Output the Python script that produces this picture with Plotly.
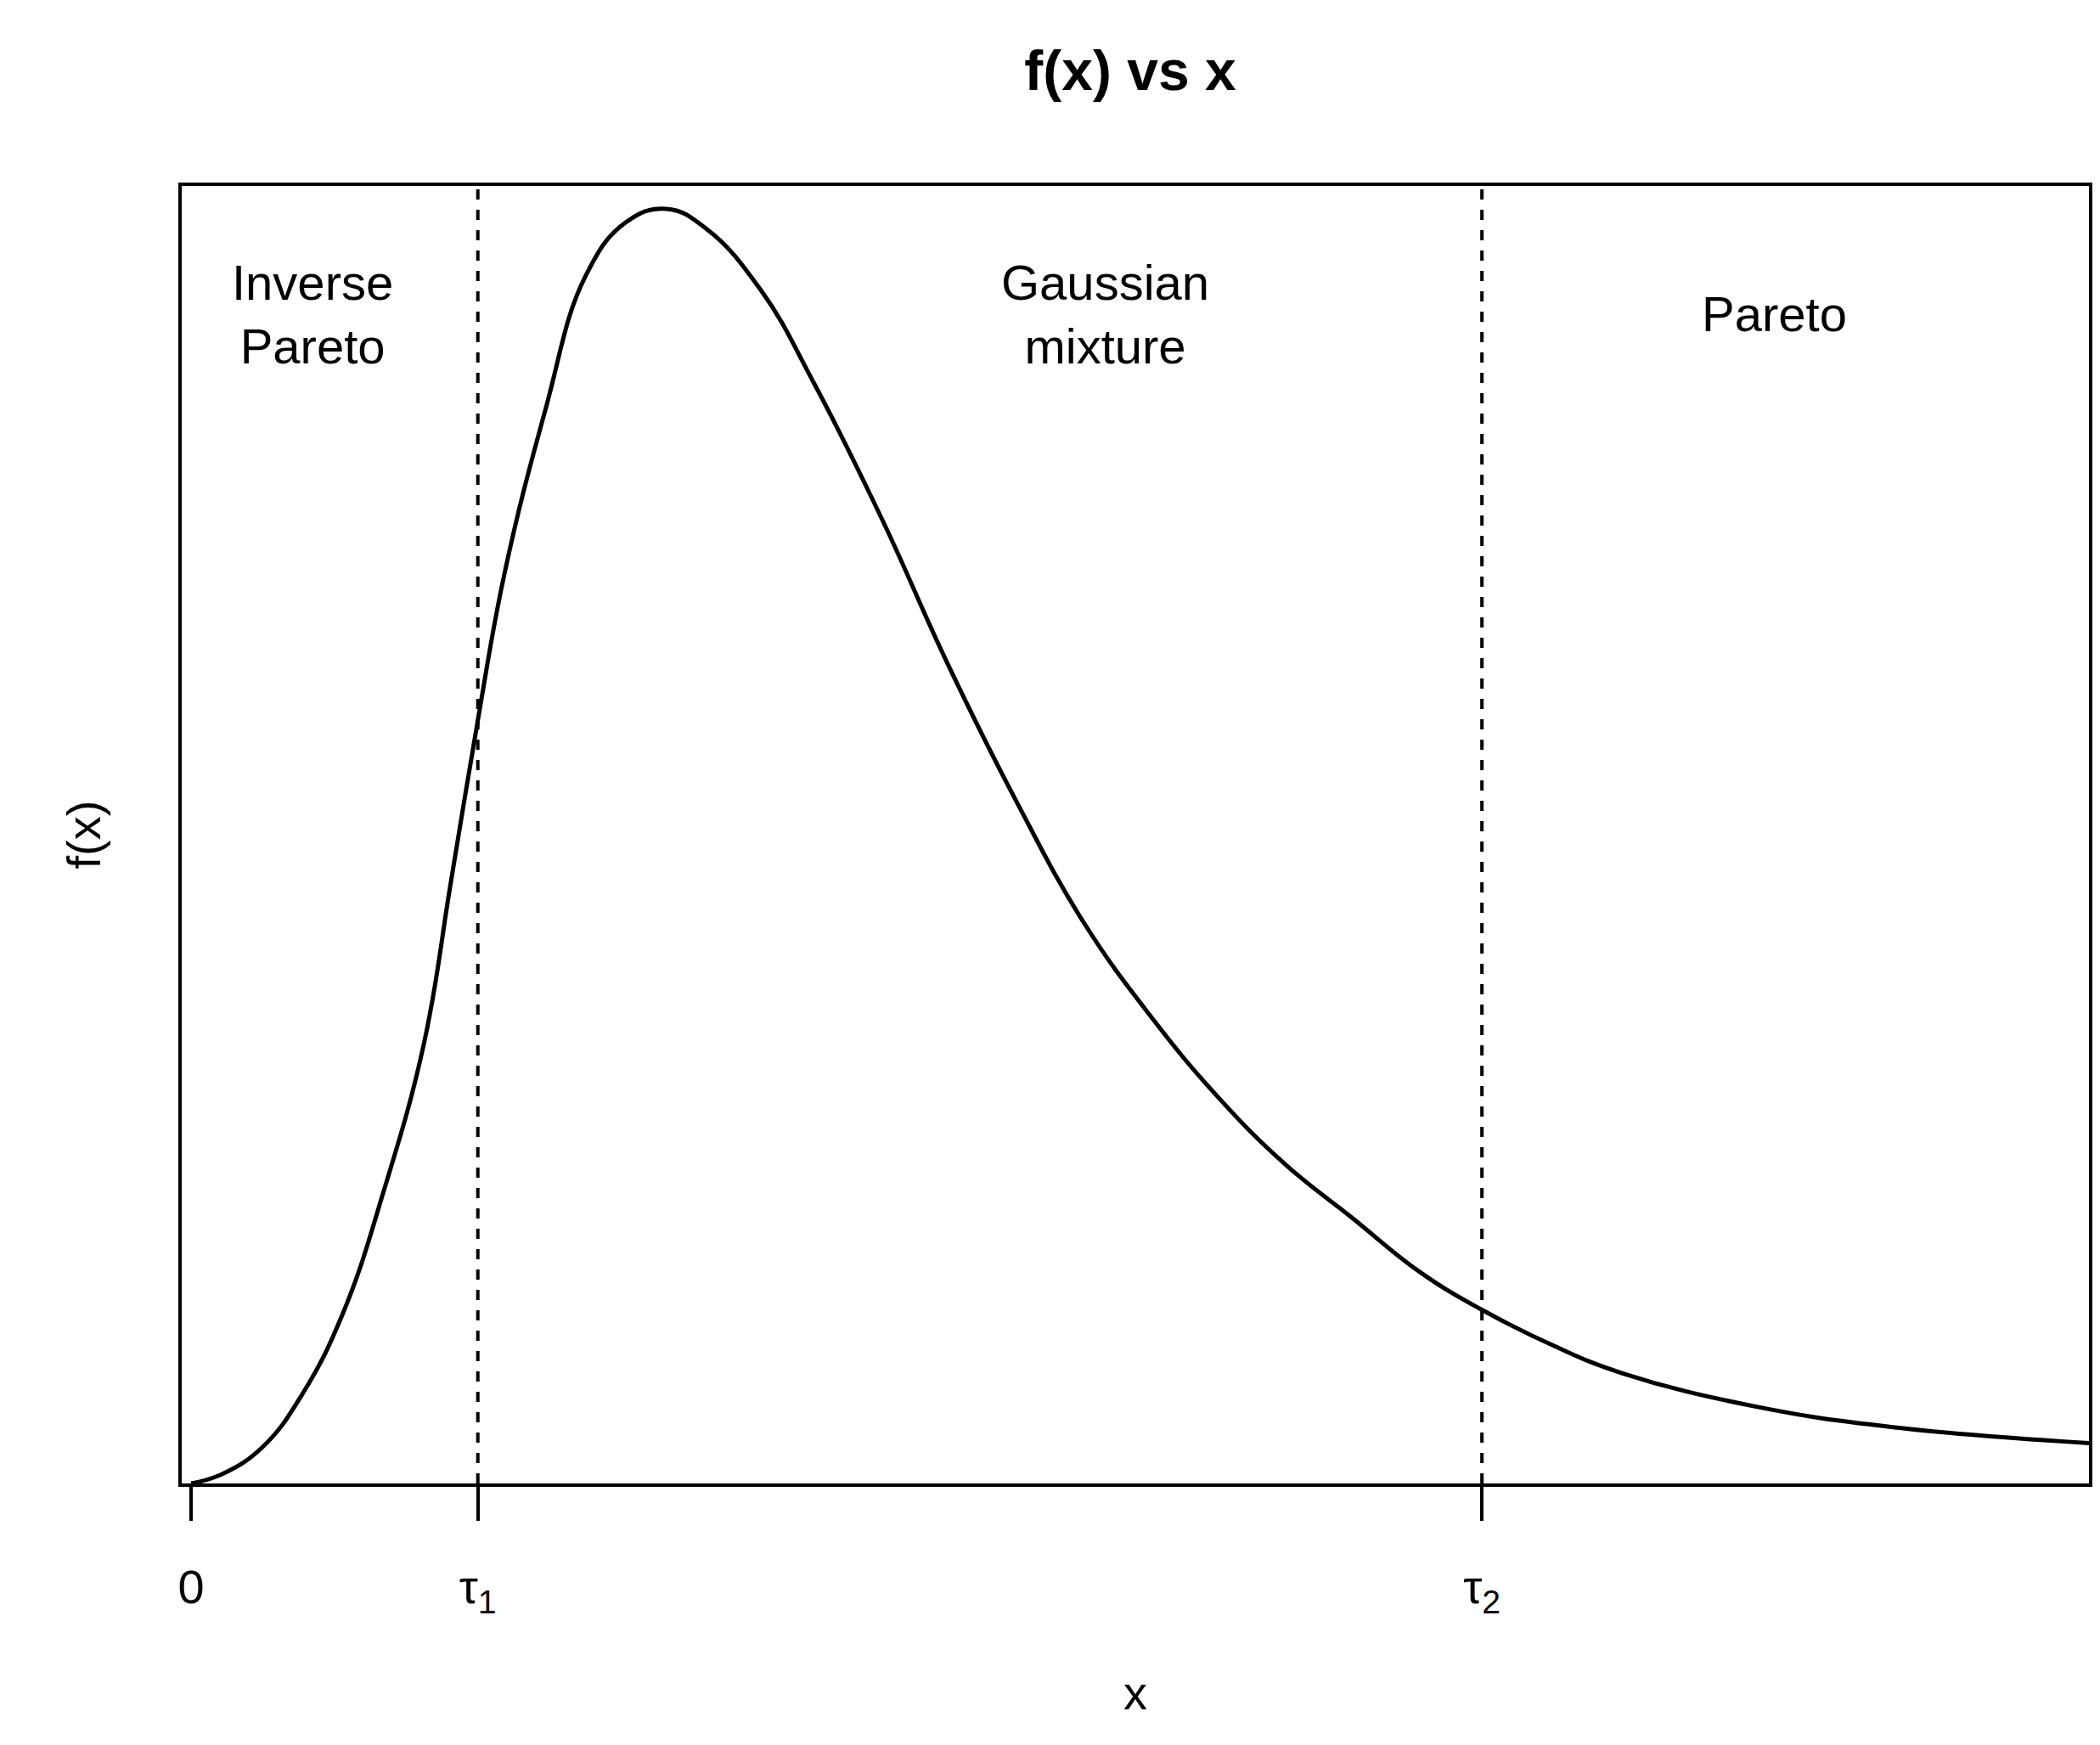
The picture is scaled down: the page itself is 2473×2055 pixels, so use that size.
import plotly.graph_objects as go

# curve
x_vals = [0, 0.23, 0.53, 0.83, 1.13, 1.43, 1.73, 1.93, 2.13, 2.33, 2.63, 2.93, 3.23, 3.53,
          3.83, 4.23, 4.63, 5.13, 5.63, 6.13, 6.63, 7.13, 7.63, 8.13, 8.63, 9.13, 9.59,
          10.13, 10.63, 11.63, 12.63, 14.1]
y_vals = [0, 0.07, 0.27, 0.67, 1.27, 2.17, 3.27, 4.47, 5.67, 6.77, 7.97, 8.97, 9.37, 9.47,
          9.32, 8.87, 8.17, 7.17, 6.07, 5.07, 4.17, 3.47, 2.87, 2.37, 1.97, 1.57, 1.29,
          1.02, 0.82, 0.57, 0.42, 0.30]

tick_pos = [0, 2.13, 9.59]
tick_text = ["0", "τ<sub>1</sub>", "τ<sub>2</sub>"]
thresholds = [2.13, 9.59]

region_x = [0.9, 6.79, 11.76]
region_y = [8.69, 8.69, 8.69]
region_text = ["Inverse<br>Pareto", "Gaussian<br>mixture", "Pareto"]

FONT = "Liberation Sans, Arial, sans-serif"

fig = go.Figure()
fig.add_trace(go.Scatter(x=x_vals, y=y_vals, mode="lines",
                         line=dict(color="black", width=5, shape="spline", smoothing=1.2)))

for t in thresholds:
    fig.add_shape(type="line", x0=t, x1=t, y0=0, y1=1, xref="x", yref="paper",
                  line=dict(color="black", width=4, dash="dash"))

for xx, yy, tt in zip(region_x, region_y, region_text):
    fig.add_annotation(x=xx, y=yy, text=tt, showarrow=False,
                       font=dict(size=58, color="black", family=FONT))

fig.add_annotation(text="x", xref="paper", yref="paper", x=0.5, y=0, yshift=-280,
                   showarrow=False, font=dict(size=56, color="black", family=FONT))
fig.add_annotation(text="f(x)", xref="paper", yref="paper", x=0, xshift=-150, y=0.5,
                   textangle=-90, showarrow=False, font=dict(size=56, color="black", family=FONT))

fig.update_layout(
    width=2473, height=2055,
    paper_bgcolor="white", plot_bgcolor="white",
    margin=dict(l=206, r=21, t=211, b=316),
    showlegend=False,
    title=dict(text="<b>f(x) vs x</b>", x=0.535, xanchor="center", y=0.975,
               font=dict(size=66, color="black", family=FONT)),
    font=dict(family=FONT, color="black"),
)
fig.update_xaxes(range=[-0.07, 14.1], showgrid=False, zeroline=False,
                 showline=True, linecolor="black", linewidth=4, mirror=True,
                 tickmode="array", tickvals=tick_pos, ticktext=tick_text,
                 ticks="outside", ticklen=40, tickwidth=4, tickcolor="black",
                 ticklabelstandoff=30, tickfont=dict(size=56, color="black"))
fig.update_yaxes(range=[0, 9.64], showgrid=False, zeroline=False,
                 showline=True, linecolor="black", linewidth=4, mirror=True,
                 showticklabels=False, ticks="")

fig.write_html("out.html")
